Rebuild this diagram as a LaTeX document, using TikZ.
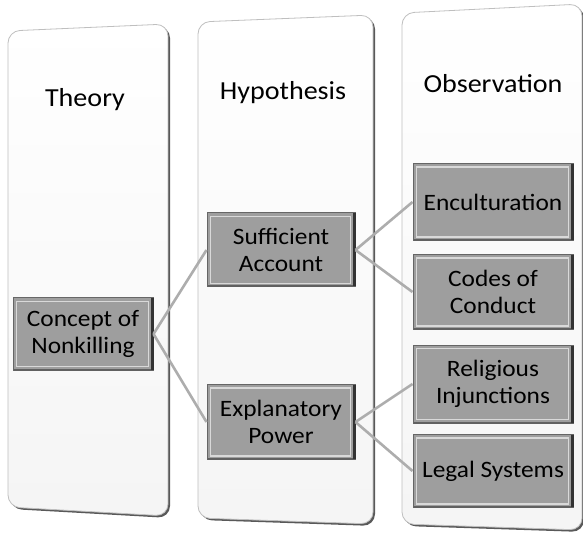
\documentclass[tikz,border=0pt]{standalone}
\usepackage{fontspec}
\setmainfont[FakeStretch=1.08]{Carlito}
\begin{document}
\begin{tikzpicture}[x=1pt,y=-1pt,
  col/.style={draw=black!25, line width=0.8pt, rounded corners=12pt, top color=white, bottom color=black!4},
  colshadow/.style={fill=black!65, rounded corners=12pt},
  title/.style={font=\fontsize{26}{30}\selectfont, text=black},
  item/.style={draw=black!60, line width=1pt, fill=black!38, align=center,
    font=\fontsize{23.5}{27}\selectfont, inner sep=1pt},
  bevel/.style={draw=black!15, line width=1.3pt},
  edge/.style={draw=black!80, line width=3pt},
  bedge/.style={draw=black!62, line width=2pt},
  link/.style={draw=black!32, line width=2.6pt}
]
\useasboundingbox (0,0) rectangle (583,534);
% columns
\path[colshadow] (10,33) -- (170,26) -- (170,518) -- (10,509) -- cycle;
\path[col] (8,31) -- (168,24) -- (168,516) -- (8,507) -- cycle;
\path[colshadow] (200,24) -- (375,17) -- (375,526) -- (200,520) -- cycle;
\path[col] (198,22) -- (373,15) -- (373,524) -- (198,518) -- cycle;
\path[colshadow] (404,15) -- (584,6) -- (584,532) -- (404,526) -- cycle;
\path[col] (402,13) -- (582,4) -- (582,530) -- (402,524) -- cycle;
% titles
\node[title] (tT) at (85,100) {Theory};
\node[title] (tH) at (283,93) {Hypothesis};
\node[title] (tO) at (493,84) {Observation};
% boxes
\newcommand\bevbox[5]{%
  \node[item, minimum width=#3, minimum height=#4] (#1) at #2 {#5};
  \draw[bevel] ([shift={(4pt,-4pt)}]#1.north west) rectangle ([shift={(-5pt,4pt)}]#1.south east);
  \draw[bedge] ([shift={(1pt,1pt)}]#1.south west) -- ([shift={(-1pt,1pt)}]#1.south east);
  \draw[edge] ([shift={(-1.5pt,-1pt)}]#1.north east) -- ([shift={(-1.5pt,1pt)}]#1.south east);
}
\bevbox{c}{(83,334)}{140pt}{72pt}{Concept of\\Nonkilling}
\bevbox{s}{(281,250)}{148pt}{74pt}{Sufficient\\Account}
\bevbox{e}{(281,422)}{148pt}{75pt}{Explanatory\\Power}
\bevbox{o1}{(493,202)}{160pt}{77pt}{Enculturation}
\bevbox{o2}{(493,292)}{160pt}{75pt}{Codes of\\Conduct}
\bevbox{o3}{(493,384)}{160pt}{78pt}{Religious\\Injunctions}
\bevbox{o4}{(493,471)}{160pt}{73pt}{Legal Systems}
% links
\draw[link] (c.east) -- (s.west);
\draw[link] (c.east) -- (e.west);
\draw[link] (s.east) -- (o1.west);
\draw[link] (s.east) -- (o2.west);
\draw[link] (e.east) -- (o3.west);
\draw[link] (e.east) -- (o4.west);
\end{tikzpicture}
\end{document}
